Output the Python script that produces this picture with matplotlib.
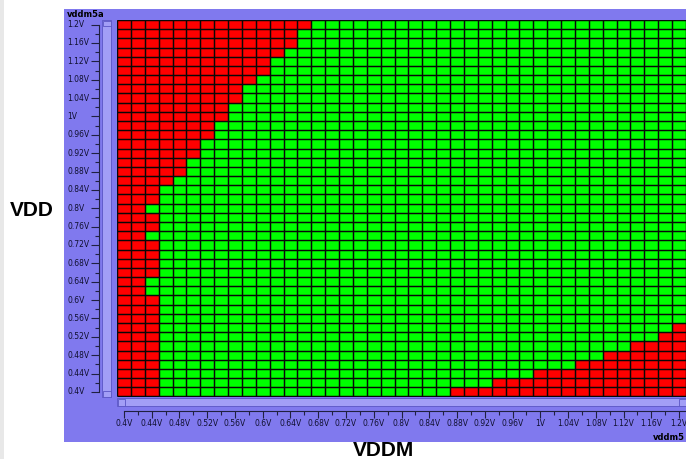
#!/usr/bin/env python3
# -*- coding: utf-8 -*-
"""
Shmoo plot of VDD vs VDDM, pass (green) / fail (red)
"""
import numpy as np
import matplotlib
matplotlib.use("Agg")
import matplotlib.pyplot as plt
from matplotlib.colors import ListedColormap
from matplotlib.patches import Rectangle
from matplotlib import transforms

# voltage steps, 0.02V apart
vddm_levels = np.round(np.linspace(0.40, 1.20, 41), 2)
vdd_levels = np.round(np.linspace(1.20, 0.40, 41), 2)  # top row first

# number of failing VDDM columns from the left, per VDD row (top -> bottom)
left_fail = [14, 13, 13, 12, 11, 11, 10, 9, 9, 8,
             8, 7, 7, 6, 6, 5, 5, 4, 3, 3,
             2, 3, 3, 2, 3, 3, 3, 3, 2, 2,
             3, 3, 3, 3, 3, 3, 3, 3, 3, 3, 3]
# first failing VDDM column on the right, per VDD row (41 = no fail)
right_fail_start = [41] * 33 + [40, 39, 37, 35, 33, 30, 27, 24]

W, H = 686, 459
PURPLE = '#8079ee'
SCROLL = '#a29ef6'
EDGE = '#5a55c4'


def px_axes(fig, x0, y0, x1, y1):
    return fig.add_axes([x0 / W, 1 - y1 / H, (x1 - x0) / W, (y1 - y0) / H])


def vlabel(v):
    return f"{v:.2f}".rstrip('0').rstrip('.') + "V"


def main():
    fig = plt.figure(figsize=(W / 100, H / 100), dpi=100)
    fig.patch.set_facecolor('white')

    # background / widget chrome in pixel coordinates
    bg = fig.add_axes([0, 0, 1, 1], zorder=-1)
    bg.set_xlim(0, W)
    bg.set_ylim(H, 0)
    bg.axis('off')
    bg.add_patch(Rectangle((0, 0), 4, H, color='#e8e8e8', lw=0))
    bg.add_patch(Rectangle((64, 9), W - 64 + 2, 433, color=PURPLE, lw=0))
    # scrollbars
    bg.add_patch(Rectangle((102, 20), 9, 377, fc=SCROLL, ec=EDGE, lw=0.6))
    bg.add_patch(Rectangle((102.5, 20.5), 8, 5, fc=SCROLL, ec=EDGE, lw=0.6))
    bg.add_patch(Rectangle((102.5, 390.5), 8, 6, fc=SCROLL, ec=EDGE, lw=0.6))
    bg.add_patch(Rectangle((117, 398), W - 117 + 2, 8, fc=SCROLL, ec=EDGE, lw=0.6))
    bg.add_patch(Rectangle((117.5, 398.5), 7, 7, fc=SCROLL, ec=EDGE, lw=0.6))
    bg.add_patch(Rectangle((679, 398.5), 7, 7, fc=SCROLL, ec=EDGE, lw=0.6))

    bg.text(67, 14.5, "vddm5a", fontsize=6, fontweight='bold', ha='left', va='center')
    bg.text(685, 437, "vddm5", fontsize=6, fontweight='bold', ha='right', va='center')
    bg.text(32, 211, "VDD", fontsize=15, fontweight='bold', family='Liberation Sans',
            ha='center', va='center')
    bg.text(383, 450, "VDDM", fontsize=15, fontweight='bold', family='Liberation Sans',
            ha='center', va='center')

    # pass/fail matrix
    fail = np.zeros((len(vdd_levels), len(vddm_levels)))
    for i in range(len(vdd_levels)):
        fail[i, :left_fail[i]] = 1
        fail[i, right_fail_start[i]:] = 1

    ax = px_axes(fig, 117, 20, 686, 396.5)
    xe = np.append(vddm_levels - 0.01, vddm_levels[-1] + 0.01)
    ye = np.append(vdd_levels + 0.01, vdd_levels[-1] - 0.01)
    ax.pcolormesh(xe, ye, fail, cmap=ListedColormap(['#00ff00', '#ff0000']),
                  vmin=0, vmax=1)
    ax.vlines(xe, ye[-1], ye[0], colors='#080808', linewidth=1.05, snap=True)
    ax.hlines(ye, xe[0], xe[-1], colors='#080808', linewidth=1.05, snap=True)
    ax.set_xlim(0.39, 1.21)
    ax.set_ylim(0.39, 1.21)
    ax.axis('off')

    # y axis
    ay = px_axes(fig, 67, 20, 99, 396.5)
    ay.set_ylim(0.39, 1.21)
    ay.set_xlim(0, 1)
    ay.patch.set_visible(False)
    for s in ['left', 'top', 'bottom']:
        ay.spines[s].set_visible(False)
    ay.spines['right'].set_bounds(0.4, 1.2)
    ay.spines['right'].set_color('#202040')
    ay.spines['right'].set_linewidth(0.8)
    ay.yaxis.tick_right()
    ay.set_xticks([])
    ay.set_yticks(vdd_levels[::2])
    ay.set_yticks(vdd_levels, minor=True)
    ay.tick_params(axis='y', which='major', direction='in', length=5.5, width=0.8,
                   color='#202040', labelright=False)
    ay.tick_params(axis='y', which='minor', direction='in', length=3, width=0.8,
                   color='#202040')
    for v in vdd_levels[::2]:
        ay.text(0, v, vlabel(v), fontsize=5.5, color='#101030', ha='left',
                va='center', transform=transforms.blended_transform_factory(
                    ay.transAxes, ay.transData))

    # x axis
    axx = px_axes(fig, 117, 411, 686, 418)
    axx.set_xlim(0.39, 1.21)
    axx.set_ylim(0, 1)
    axx.patch.set_visible(False)
    for s in ['left', 'right', 'bottom']:
        axx.spines[s].set_visible(False)
    axx.spines['top'].set_bounds(0.4, 1.21)
    axx.spines['top'].set_color('#202040')
    axx.spines['top'].set_linewidth(0.8)
    axx.xaxis.tick_top()
    axx.set_yticks([])
    axx.set_xticks(vddm_levels[::2])
    axx.set_xticks(vddm_levels, minor=True)
    axx.tick_params(axis='x', which='major', direction='in', length=5, width=0.8,
                    color='#202040', labeltop=False)
    axx.tick_params(axis='x', which='minor', direction='in', length=3, width=0.8,
                    color='#202040')
    tr = transforms.blended_transform_factory(axx.transData, bg.transData)
    for v in vddm_levels[::2]:
        bg.text(v, 423, vlabel(v), fontsize=5.5, color='#101030', ha='center',
                va='center', transform=tr)

    fig.savefig('out.png', dpi=100)


if __name__ == "__main__":
    main()
